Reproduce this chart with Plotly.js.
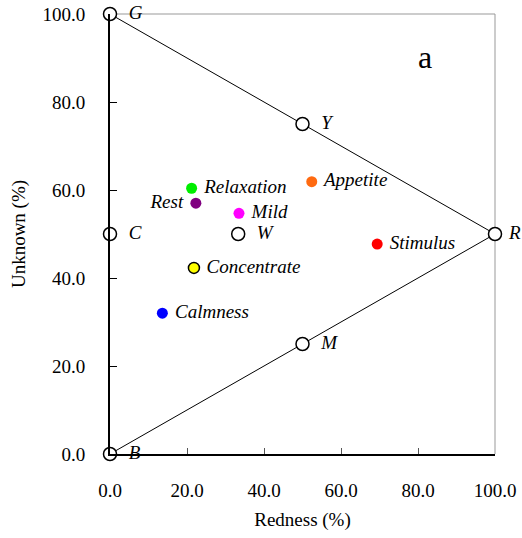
<!DOCTYPE html>
<html>
<head>
<meta charset="utf-8">
<script src="https://cdn.plot.ly/plotly-3.0.1.min.js"></script>
<style>
  html, body { margin: 0; padding: 0; background: #fff; }
  #chart { width: 522px; height: 538px; }
</style>
</head>
<body>
<div id="chart"></div>
<script>
// Reference vertices of the colour diagram (open circles)
const vertexNames = ['G', 'Y', 'R', 'M', 'B', 'C', 'W'];
const vertexRed = [0, 50, 100, 50, 0, 0, 33.3];
const vertexUnknown = [100, 75, 50, 25, 0, 50, 50];

// Triangle outline G -> R -> B
const edgeRed = [0, 100, 0];
const edgeUnknown = [100, 50, 0];

// Impression words placed in the diagram
const impressions = ['Relaxation', 'Rest', 'Mild', 'Appetite', 'Stimulus', 'Concentrate', 'Calmness'];
const impressionRed = [21.2, 22.3, 33.5, 52.4, 69.4, 21.8, 13.6];
const impressionUnknown = [60.4, 57.0, 54.7, 61.9, 47.7, 42.3, 32.0];
const impressionColors = ['#00ee00', '#800080', '#ff00ff', '#ff6a10', '#ff0000', '#ffff00', '#0000ff'];
const impressionTextSide = ['middle right', 'middle left', 'middle right', 'middle right', 'middle right', 'middle right', 'middle right'];

// Axis ticks
const tickValues = [0, 20, 40, 60, 80, 100];
const tickLabels = ['0.0', '20.0', '40.0', '60.0', '80.0', '100.0'];

const serif = 'Liberation Serif';
const labelFont = { family: serif, size: 19, color: '#000', style: 'italic' };

const traces = [
  {
    x: edgeRed, y: edgeUnknown,
    mode: 'lines', type: 'scatter',
    line: { color: '#000', width: 1 },
    hoverinfo: 'skip', cliponaxis: false
  },
  {
    x: impressionRed, y: impressionUnknown,
    text: impressions.map(s => ' ' + s + ' '),
    mode: 'markers+text', type: 'scatter',
    textposition: impressionTextSide,
    textfont: labelFont,
    marker: {
      size: 11,
      color: impressionColors,
      line: { color: impressionColors.map(c => c === '#ffff00' ? '#000' : c), width: impressionColors.map(c => c === '#ffff00' ? 1.5 : 0) }
    },
    cliponaxis: false
  },
  {
    x: vertexRed, y: vertexUnknown,
    // the right-hand corner label sits tight against the page edge
    text: vertexNames.map(s => (s === 'R' ? ' ' : '  ') + s),
    mode: 'markers+text', type: 'scatter',
    textposition: 'middle right',
    textfont: labelFont,
    marker: { size: 13, color: '#fff', line: { color: '#000', width: 1.5 } },
    cliponaxis: false
  }
];

const layout = {
  width: 522, height: 538,
  margin: { l: 110, r: 27, t: 14, b: 84 },
  paper_bgcolor: '#fff', plot_bgcolor: '#fff',
  showlegend: false,
  font: { family: serif, color: '#000' },
  xaxis: {
    range: [0, 100], tickvals: tickValues, ticktext: tickLabels,
    showgrid: false, zeroline: false,
    showline: true, linecolor: '#000', linewidth: 1.5,
    ticks: 'inside', ticklen: 6, tickcolor: '#555', tickwidth: 1,
    ticklabelstandoff: 19,
    tickfont: { family: serif, size: 19, color: '#000' },
    title: { text: 'Redness (%)', font: { family: serif, size: 19, color: '#000' }, standoff: 12 }
  },
  yaxis: {
    range: [0, 100], tickvals: tickValues, ticktext: tickLabels,
    showgrid: false, zeroline: false,
    showline: true, linecolor: '#000', linewidth: 2,
    ticks: 'inside', ticklen: 7, tickcolor: '#000', tickwidth: 1,
    ticklabelstandoff: 19,
    tickfont: { family: serif, size: 19, color: '#000' },
    title: { text: 'Unknown (%)', font: { family: serif, size: 19, color: '#000' }, standoff: 12 }
  },
  shapes: [
    { type: 'line', xref: 'paper', yref: 'paper', x0: 0, x1: 1, y0: 1, y1: 1, line: { color: '#999', width: 1 }, layer: 'below' },
    { type: 'line', xref: 'paper', yref: 'paper', x0: 1, x1: 1, y0: 0, y1: 1, line: { color: '#999', width: 1 }, layer: 'below' }
  ],
  annotations: [
    { text: 'a', xref: 'paper', yref: 'paper', x: 0.818, y: 0.902, xanchor: 'center', yanchor: 'middle', showarrow: false,
      font: { family: serif, size: 32, color: '#000' } }
  ]
};

Plotly.newPlot('chart', traces, layout, { displayModeBar: false, staticPlot: true });
</script>
</body>
</html>
